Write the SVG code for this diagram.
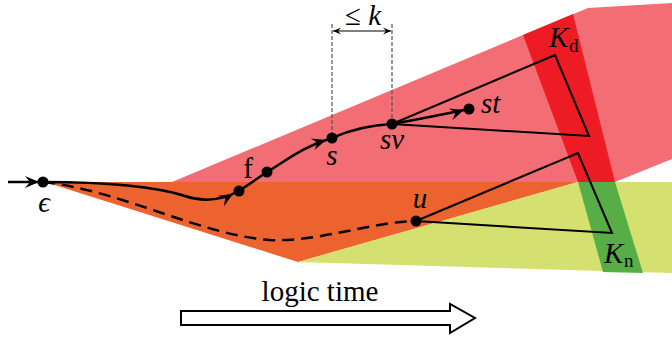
<svg xmlns="http://www.w3.org/2000/svg" width="672" height="339" viewBox="0 0 672 339">
<style>
.lbl{font-family:"Liberation Serif","DejaVu Serif",serif;font-style:italic;font-size:29px;fill:#000}
.up{font-family:"Liberation Serif","DejaVu Serif",serif;font-size:29px;fill:#000}
.sub{font-family:"Liberation Serif","DejaVu Serif",serif;font-size:19px;fill:#000}
.ln{fill:none;stroke:#000;stroke-width:2.5}
.tri{fill:none;stroke:#000;stroke-width:2;stroke-linejoin:miter}
.dot{fill:#000}
.dim{fill:none;stroke:#555;stroke-width:1.2;stroke-dasharray:4 2}
</style>
<defs>
<path id="ah" d="M0,0 L-14,-6 L-9,0 L-14,6 Z" fill="#000"/>
<marker id="dimA" viewBox="-8 -4 8 8" refX="0" refY="0" markerWidth="8" markerHeight="8" orient="auto-start-reverse" markerUnits="userSpaceOnUse">
<path d="M0,0 L-8,-3.5 L-5,0 L-8,3.5 Z" fill="#000"/>
</marker>
</defs>
<g id="regions">
<polygon id="pink" points="172,182 523,35 588,8 672,3 672,159 615,182" fill="#F36E74"/>
<polygon id="Kd-band" points="523,35 573,14 615,182 578,182" fill="#ED1C24"/>
<polygon id="orange" points="45,182 578,182 298,262" fill="#EC6330"/>
<polygon id="yellow" points="298,262 578,182 672,182 672,273" fill="#D4E06F"/>
<polygon id="Kn-band" points="578,182 615,182 643,273 603,272" fill="#57AE47"/>
</g>
<g id="connectors">
<line class="ln" x1="8" y1="182" x2="40" y2="182"/>
<use href="#ah" transform="translate(39,182)"/>
<path class="ln" d="M43,182 C120,182 160,188 185,196 C205,203 222,200 239,191"/>
<use href="#ah" transform="translate(233,194) rotate(-30)"/>
<line class="ln" x1="239" y1="191" x2="267" y2="172"/>
<path class="ln" d="M267,172 C290,158 305,146 332,138"/>
<use href="#ah" transform="translate(326,140) rotate(-18)"/>
<path class="ln" d="M332,138 C350,130 370,125 392,124"/>
<path class="ln" d="M392,124 C420,119 445,114 469,109"/>
<use href="#ah" transform="translate(464,110) rotate(-18)"/>
<path class="ln" d="M43,182 C120,190 200,235 270,240 C320,242 370,222 416,221" stroke-dasharray="12 7"/>
<polyline class="tri" points="392,124 555,55 589,136 392,124"/>
<polyline class="tri" points="416,221 578,153 612,233 416,221"/>
<line class="dim" x1="332" y1="24" x2="332" y2="138"/>
<line class="dim" x1="392" y1="24" x2="392" y2="124"/>
<line x1="333" y1="31" x2="391" y2="31" stroke="#000" stroke-width="1.2" marker-start="url(#dimA)" marker-end="url(#dimA)"/>
<text class="lbl" x="363" y="25" text-anchor="middle" font-size="26"><tspan font-style="normal">≤</tspan> k</text>
</g>
<g id="epsilon"><circle class="dot" cx="43" cy="182" r="5.5"/><text class="lbl" x="44" y="212" text-anchor="middle">ϵ</text></g>
<g id="f"><circle class="dot" cx="239" cy="191" r="5.5"/><circle class="dot" cx="267" cy="172" r="5.5"/><text class="up" x="248" y="178" text-anchor="middle">f</text></g>
<g id="s"><circle class="dot" cx="332" cy="138" r="5.5"/><text class="lbl" x="332" y="165" text-anchor="middle">s</text></g>
<g id="sv"><circle class="dot" cx="392" cy="124" r="5.5"/><text class="lbl" x="392" y="149" text-anchor="middle">sv</text></g>
<g id="st"><circle class="dot" cx="469" cy="109" r="5.5"/><text class="lbl" x="481" y="113">st</text></g>
<g id="u"><circle class="dot" cx="416" cy="221" r="5.5"/><text class="lbl" x="420" y="208" text-anchor="middle">u</text></g>
<g id="Kd"><text class="lbl" x="549" y="47">K</text><text class="sub" x="569" y="52">d</text></g>
<g id="Kn"><text class="lbl" x="604" y="263">K</text><text class="sub" x="624" y="267">n</text></g>
<g id="logic-time">
<path d="M181,311 L450,311 L450,304 L475,318 L450,333 L450,325 L181,325 Z" fill="#fff" stroke="#000" stroke-width="2"/>
<text class="up" x="320" y="301" text-anchor="middle">logic time</text>
</g>
</svg>
